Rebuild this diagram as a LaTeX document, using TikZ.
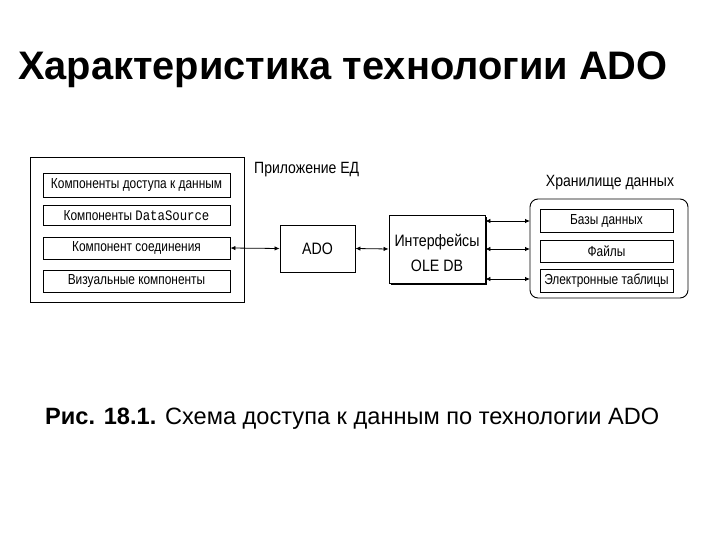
\documentclass[tikz,border=0pt]{standalone}
\usepackage{fontspec}
\setmainfont{Liberation Sans}
\newfontfamily\monof[FakeStretch=0.85]{Liberation Mono}
\newfontfamily\narrowf[FakeStretch=0.82]{Liberation Sans}
\newfontfamily\labelf[FakeStretch=0.86]{Liberation Sans}
\usetikzlibrary{arrows.meta}
\begin{document}
\begin{tikzpicture}[x=1pt,y=-1pt,
  box/.style={draw=black,line width=0.9pt,inner sep=0pt,font=\narrowf\fontsize{14.5}{16}\selectfont},
  lbl/.style={inner sep=0pt,font=\labelf\fontsize{16.3}{18}\selectfont},
  conn/.style={line width=0.8pt,{Latex[length=5pt,width=4.5pt]}-{Latex[length=5pt,width=4.5pt]}}]
\useasboundingbox (0,0) rectangle (720,540);
\node[anchor=base west,inner sep=0pt,font=\fontsize{39.8}{44}\selectfont\bfseries] (title) at (18,80) {Характеристика технологии ADO};
% left application block
\draw[line width=0.9pt] (30,157) rectangle (244,302);
\node[box,minimum width=187pt,minimum height=24pt] (c1) at (136.5,185) {Компоненты доступа к данным};
\node[box,minimum width=187pt,minimum height=20pt] (c2) at (136.5,215.5) {Компоненты {\monof DataSource}};
\node[box,minimum width=187pt,minimum height=22pt] (c3) at (136.5,248) {Компонент соединения};
\node[box,minimum width=187pt,minimum height=22pt] (c4) at (136.5,281) {Визуальные компоненты};
\node[lbl,anchor=west] (app) at (254,170) {Приложение ЕД};
% ADO
\node[box,minimum width=75pt,minimum height=47pt,font=\labelf\fontsize{16.5}{18}\selectfont] (ado) at (317.5,248.5) {ADO};
% OLE DB interfaces
\fill (391,217) rectangle (487,285);
\node[box,fill=white,minimum width=96pt,minimum height=68pt] (ole) at (437,249) {};
\node[inner sep=0pt,align=center,font=\labelf\fontsize{16.5}{25}\selectfont] (oletext) at (437,253) {Интерфейсы\\OLE DB};
% storage
\draw[line width=0.9pt,rounded corners=8pt] (530,199) rectangle (688,298);
\node[lbl,anchor=center] (stor) at (610,183) {Хранилище данных};
\node[box,minimum width=133pt,minimum height=23pt] (s1) at (606.5,220.5) {Базы данных};
\node[box,minimum width=133pt,minimum height=22pt] (s2) at (606.5,251) {Файлы};
\node[box,minimum width=133pt,minimum height=23pt] (s3) at (606.5,280.5) {Электронные таблицы};
% connectors
\draw[conn] (c3.east) -- (ado.west);
\draw[conn] (ado.east) -- (ole.west);
\coordinate (sl1) at (530,221);
\coordinate (sl2) at (530,249);
\coordinate (sl3) at (530,279);
\draw[conn] (ole.east |- sl1) -- (sl1);
\draw[conn] (ole.east |- sl2) -- (sl2);
\draw[conn] (ole.east |- sl3) -- (sl3);
% caption
\node[anchor=base west,inner sep=0pt,font=\fontsize{23.6}{28}\selectfont] (cap) at (45,424) {\textbf{Рис. 18.1.} Схема доступа к данным по технологии ADO};
\end{tikzpicture}
\end{document}
